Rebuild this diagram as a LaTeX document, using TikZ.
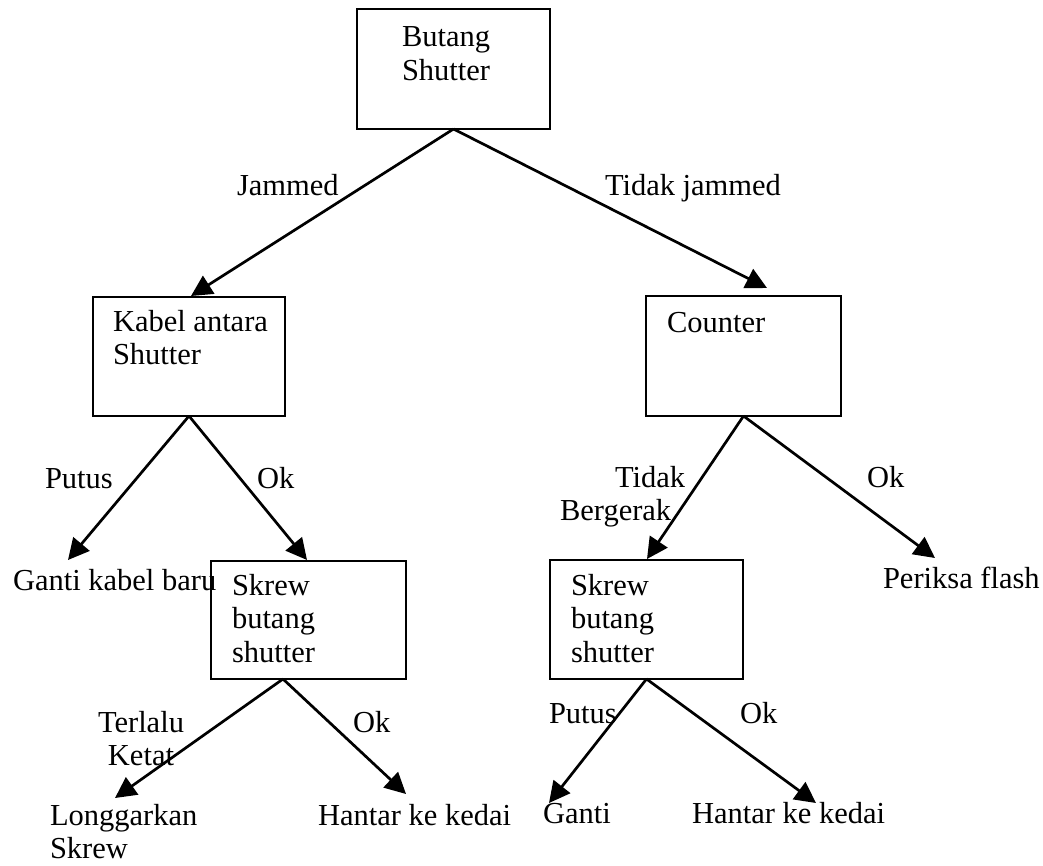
\documentclass[tikz,border=0pt]{standalone}
\usepackage{fontspec}
\setmainfont{Liberation Serif}
\usetikzlibrary{arrows.meta,calc}
\newcommand{\mystrut}{\rule{0pt}{24pt}}
\begin{document}
\begin{tikzpicture}[x=1pt,y=-1pt,
  box/.style={draw, line width=2.6pt, rectangle, inner sep=0pt, outer sep=0pt, anchor=north west},
  txt/.style={inner sep=0pt, outer sep=0pt, font=\fontsize{30.5}{33.5}\selectfont},
  ml/.style={txt, align=left, anchor=north west},
  sl/.style={txt, anchor=base west},
  conn/.style={line width=2.7pt, -{Triangle[length=21pt,width=21pt]}}]
\useasboundingbox (0,0) rectangle (1043,866);

% boxes
\node[box, minimum width=193pt, minimum height=120pt] (top) at (357,9) {};
\node[box, minimum width=192pt, minimum height=119pt] (kabel) at (93,297) {};
\node[box, minimum width=195pt, minimum height=120pt] (counter) at (646,296) {};
\node[box, minimum width=195pt, minimum height=118pt] (skL) at (211,561) {};
\node[box, minimum width=193pt, minimum height=119pt] (skR) at (550,560) {};

% box texts
\node[ml] (tTop) at (402,23) {\mystrut Butang\\Shutter};
\node[ml] (tKabel) at (113,307) {\mystrut Kabel antara\\Shutter};
\node[sl] (tCounter) at (667,332) {Counter};
\node[ml] (tSkL) at (232,571) {\mystrut Skrew\\butang\\shutter};
\node[ml] (tSkR) at (571,571) {\mystrut Skrew\\butang\\shutter};

% edge labels
\node[sl] (lJam) at (237,196) {Jammed};
\node[sl] (lTJam) at (605,196) {Tidak jammed};
\node[sl] (lPutus1) at (45,488) {Putus};
\node[sl] (lOk1) at (257,488) {Ok};
\node[ml] (lTidak) at (560,463) {\mystrut\hspace*{55pt}Tidak\\Bergerak};
\node[sl] (lOk2) at (867,487) {Ok};
\node[txt, align=center, anchor=north] (lTerlalu) at (141,708) {\mystrut Terlalu\\Ketat};
\node[sl] (lOk3) at (353,732) {Ok};
\node[sl] (lPutus2) at (549,723) {Putus};
\node[sl] (lOk4) at (740,723) {Ok};

% leaves
\node[sl] (gKabel) at (13,590) {Ganti kabel baru};
\node[sl] (periksa) at (883,588) {Periksa flash};
\node[ml] (longgar) at (50,801) {\mystrut Longgarkan\\Skrew};
\node[sl] (hantarL) at (318,825) {Hantar ke kedai};
\node[sl] (ganti) at (543,823) {Ganti};
\node[sl] (hantarR) at (692,823) {Hantar ke kedai};

% connectors
\draw[conn] (top.south) -- ($(kabel.north)+(2,-1)$);
\draw[conn] (top.south) -- ($(counter.north)+(23.5,-8)$);
\draw[conn] (kabel.south) -- ($(gKabel.base west)+(55,-30)$);
\draw[conn] (kabel.south) -- ($(skL.north west)+(96,-1)$);
\draw[conn] (counter.south) -- ($(skR.north west)+(97,-1)$);
\draw[conn] (counter.south) -- ($(periksa.base west)+(52,-30)$);
\draw[conn] ($(skL.south west)+(72,0)$) -- ($(longgar.north west)+(65,-3)$);
\draw[conn] ($(skL.south west)+(72,0)$) -- ($(hantarL.base west)+(88,-31)$);
\draw[conn] (skR.south) -- ($(ganti.base west)+(6,-20)$);
\draw[conn] (skR.south) -- ($(hantarR.base west)+(124,-20)$);
\end{tikzpicture}
\end{document}
